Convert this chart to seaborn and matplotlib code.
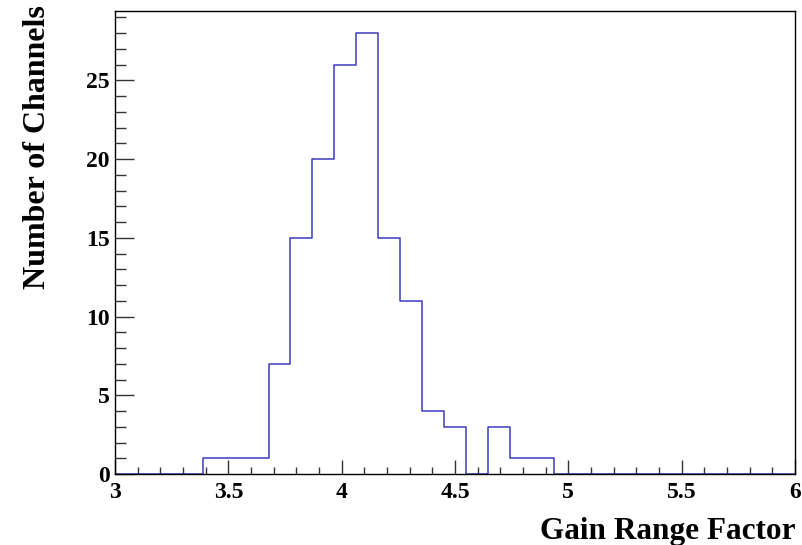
import numpy as np
import pandas as pd
import matplotlib
matplotlib.use("Agg")
import matplotlib.pyplot as plt
import seaborn as sns
from matplotlib.ticker import MultipleLocator, FormatStrFormatter

# Histogram data: 31 bins from 3.0 to 6.0
x_min, x_max, n_bins = 3.0, 6.0, 31
counts = [0, 0, 0, 0, 1, 1, 1, 7, 15, 20, 26, 28, 15, 11, 4, 3, 0, 3, 1, 1,
          0, 0, 0, 0, 0, 0, 0, 0, 0, 0, 0]
x_label = "Gain Range Factor"
y_label = "Number of Channels"

edges = np.linspace(x_min, x_max, n_bins + 1)
centers = 0.5 * (edges[:-1] + edges[1:])
df = pd.DataFrame({"gain": centers, "n": counts})

sns.set_theme(style="white")
plt.rcParams["font.family"] = ["Liberation Serif", "DejaVu Serif"]
plt.rcParams["font.weight"] = "bold"
plt.rcParams["text.color"] = "black"
plt.rcParams["axes.labelcolor"] = "black"
plt.rcParams["xtick.color"] = "black"
plt.rcParams["ytick.color"] = "black"

fig = plt.figure(figsize=(8.02, 5.45), dpi=100)
ax = fig.add_axes([115 / 802, 1 - 474 / 545, 680 / 802, 463 / 545])

sns.histplot(data=df, x="gain", weights="n", bins=n_bins, binrange=(x_min, x_max),
             element="step", fill=False, color="#3a3ac4", linewidth=1.1, ax=ax)

ax.set_xlim(x_min, x_max)
ax.set_ylim(0, 29.4)

ax.xaxis.set_major_locator(MultipleLocator(0.5))
ax.xaxis.set_minor_locator(MultipleLocator(0.1))
ax.yaxis.set_major_locator(MultipleLocator(5))
ax.yaxis.set_minor_locator(MultipleLocator(1))
ax.xaxis.set_major_formatter(FormatStrFormatter("%g"))
ax.yaxis.set_major_formatter(FormatStrFormatter("%g"))

ax.tick_params(axis="x", which="major", direction="in", length=10, width=1,
               color="#333333", labelcolor="black", labelsize=17, pad=6)
ax.tick_params(axis="x", which="minor", direction="in", length=5, width=1,
               color="#333333")
ax.tick_params(axis="y", which="major", direction="in", length=14, width=1,
               color="#333333", labelcolor="black", labelsize=17, pad=4)
ax.tick_params(axis="y", which="minor", direction="in", length=8, width=1,
               color="#333333")
ax.tick_params(bottom=True, left=True, top=False, right=False, which="both")

for s in ax.spines.values():
    s.set_color("black")
    s.set_linewidth(1.0)

ax.set_xlabel(x_label, fontsize=22.5, fontweight="bold", loc="right", labelpad=10,
              color="black")
ax.set_ylabel(y_label, fontsize=23, fontweight="bold", loc="top", labelpad=24,
              color="black")
ax.yaxis.label.set_y(1.013)

fig.savefig("out.png", dpi=100)
